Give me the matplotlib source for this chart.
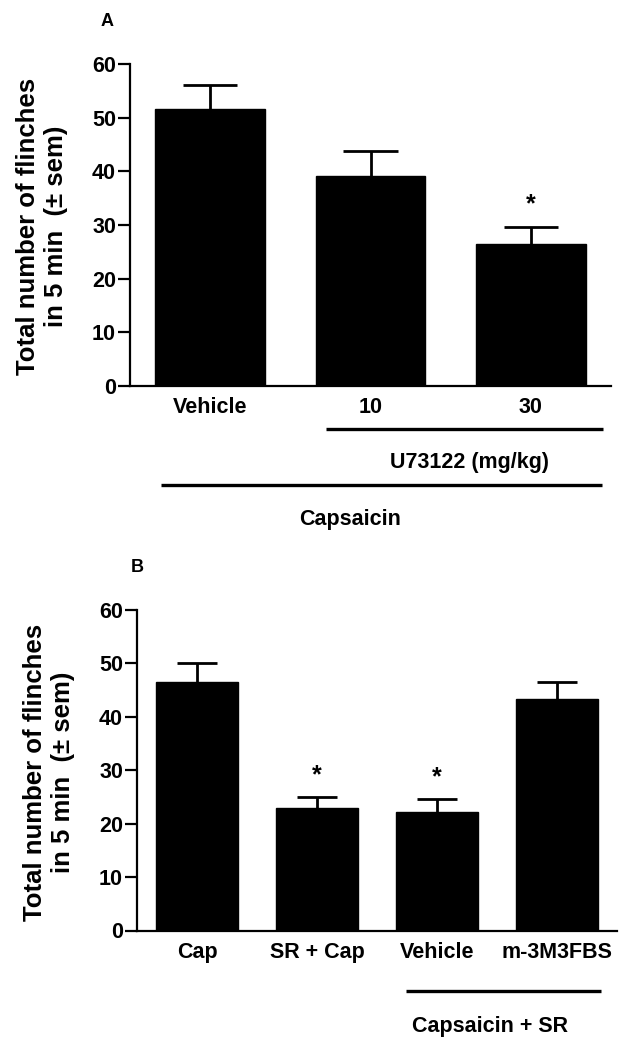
import matplotlib
matplotlib.use("Agg")
import matplotlib.pyplot as plt
import matplotlib.transforms as mtransforms

plt.rcParams['font.family'] = ['Liberation Sans', 'DejaVu Sans']
plt.rcParams['font.weight'] = 'bold'

# Panel A data
cats_a = ["Vehicle", "10", "30"]
means_a = [51.6, 39.1, 26.4]
sems_a = [4.5, 4.6, 3.3]
sig_a = [False, False, True]

# Panel B data
cats_b = ["Cap", "SR + Cap", "Vehicle", "m-3M3FBS"]
means_b = [46.5, 22.9, 22.2, 43.3]
sems_b = [3.5, 2.1, 2.4, 3.3]
sig_b = [False, True, True, False]

yticks = [0, 10, 20, 30, 40, 50, 60]
ylabel = "Total number of flinches\nin 5 min  (\u00b1 sem)"

W, H = 635, 1050
fig = plt.figure(figsize=(W / 100, H / 100), dpi=100)

def px_axes(left, right, top, bottom):
    return fig.add_axes([left / W, 1 - bottom / H, (right - left) / W, (bottom - top) / H])

def style(ax, cats, xlim):
    ax.set_xlim(*xlim)
    ax.set_ylim(0, 60)
    ax.set_yticks(yticks)
    ax.set_xticks(range(len(cats)))
    ax.set_xticklabels(cats, fontsize=15.5, fontweight='bold')
    ax.tick_params(axis='x', length=0, pad=8)
    ax.tick_params(axis='y', length=9, width=1.6, labelsize=15.5, pad=1)
    for s in ['top', 'right']:
        ax.spines[s].set_visible(False)
    for s in ['left', 'bottom']:
        ax.spines[s].set_linewidth(1.6)
    for lab in ax.get_yticklabels():
        lab.set_fontweight('bold')

def draw_bars(ax, means, sems, sig, width, capw, star_off):
    x = list(range(len(means)))
    ax.bar(x, means, width=width, color='black', edgecolor='black', zorder=2)
    tops = [m + s for m, s in zip(means, sems)]
    ax.vlines(x, means, tops, color='black', lw=2.0, zorder=1)
    ax.hlines(tops, [xi - capw for xi in x], [xi + capw for xi in x], color='black', lw=2.0, zorder=1)
    for xi, t, s in zip(x, tops, sig):
        if s:
            ax.text(xi, t + star_off, "*", ha='center', va='center', fontsize=18, fontweight='bold')

# ---- Panel A ----
axA = px_axes(130, 611, 64, 386)
style(axA, cats_a, (-0.5, 2.5))
draw_bars(axA, means_a, sems_a, sig_a, width=0.685, capw=0.17, star_off=4.2)
trA = mtransforms.blended_transform_factory(axA.transData, axA.transAxes)
axA.plot([0.72, 2.45], [-0.132, -0.132], transform=trA, color='black', lw=2.4, clip_on=False, solid_capstyle='butt')
axA.text(1.616, -0.239, "U73122 (mg/kg)", transform=trA, ha='center', va='center', fontsize=15.5, fontweight='bold')
axA.plot([-0.306, 2.445], [-0.307, -0.307], transform=trA, color='black', lw=2.4, clip_on=False, solid_capstyle='butt')
axA.text(0.873, -0.416, "Capsaicin", transform=trA, ha='center', va='center', fontsize=15.5, fontweight='bold')
fig.text(107 / W, 1 - 22 / H, "A", ha='center', va='center', fontsize=13, fontweight='bold')
fig.text(42 / W, 1 - 226 / H, ylabel, rotation=90, ha='center', va='center', multialignment='center',
         fontsize=18.5, fontweight='bold', linespacing=1.25)

# ---- Panel B ----
axB = px_axes(137, 617, 610, 930.5)
style(axB, cats_b, (-0.5, 3.5))
draw_bars(axB, means_b, sems_b, sig_b, width=0.685, capw=0.17, star_off=4.0)
trB = mtransforms.blended_transform_factory(axB.transData, axB.transAxes)
axB.plot([1.74, 3.37], [-0.189, -0.189], transform=trB, color='black', lw=2.4, clip_on=False, solid_capstyle='butt')
axB.text(2.44, -0.301, "Capsaicin + SR", transform=trB, ha='center', va='center', fontsize=15.5, fontweight='bold')
fig.text(137 / W, 1 - 568 / H, "B", ha='center', va='center', fontsize=13, fontweight='bold')
fig.text(49 / W, 1 - 772 / H, ylabel, rotation=90, ha='center', va='center', multialignment='center',
         fontsize=18.5, fontweight='bold', linespacing=1.25)

fig.savefig("out.png", dpi=100)
